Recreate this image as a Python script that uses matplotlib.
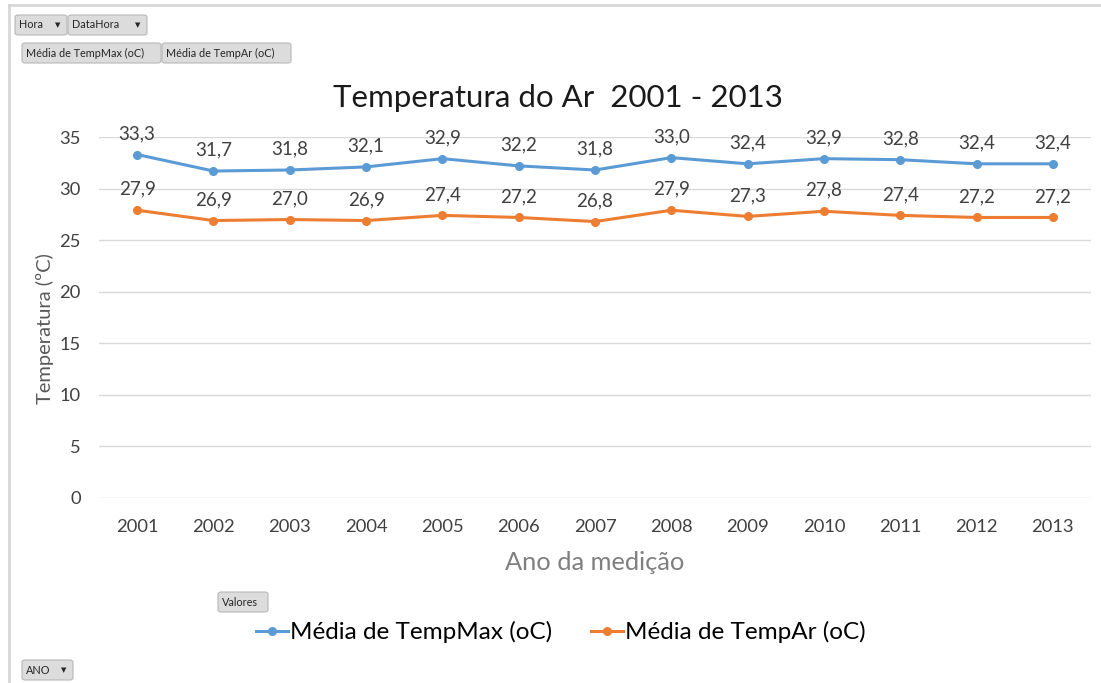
import matplotlib.pyplot as plt
from matplotlib.patches import FancyBboxPatch
from matplotlib.lines import Line2D

# ---------------------------
# DATA
# ---------------------------
anos = ["2001", "2002", "2003", "2004", "2005", "2006", "2007",
        "2008", "2009", "2010", "2011", "2012", "2013"]
temp_max = [33.3, 31.7, 31.8, 32.1, 32.9, 32.2, 31.8, 33.0, 32.4, 32.9, 32.8, 32.4, 32.4]
temp_ar = [27.9, 26.9, 27.0, 26.9, 27.4, 27.2, 26.8, 27.9, 27.3, 27.8, 27.4, 27.2, 27.2]
serie_nomes = ["Média de TempMax (oC)", "Média de TempAr (oC)"]
cores = ["#5b9bd5", "#ed7d31"]

plt.rcParams['font.family'] = ['Lato', 'DejaVu Sans']

W, H = 1101, 683
fig = plt.figure(figsize=(W / 100, H / 100), dpi=100)
fig.patch.set_facecolor("white")

# ---------------------------
# PLOT AREA
# ---------------------------
ax = fig.add_axes([99 / W, 1 - 498 / H, (1091 - 99) / W, (498 - 137) / H])
x = list(range(len(anos)))
for vals, cor in zip([temp_max, temp_ar], cores):
    ax.plot(x, vals, color=cor, lw=2.2, marker="o", ms=5.5, zorder=3)
    for xi, v in zip(x, vals):
        ax.annotate(f"{v:.1f}".replace(".", ","), (xi, v), xytext=(0, 9),
                    textcoords="offset points", ha="center", va="bottom",
                    fontsize=13.5, color="#404040")

ax.set_xlim(-0.5, len(anos) - 0.5)
ax.set_ylim(0, 35)
ax.set_yticks(range(0, 36, 5))
ax.set_xticks(x)
ax.set_xticklabels(anos)
ax.grid(axis="y", color="#d9d9d9", lw=1)
ax.set_axisbelow(True)
for s in ax.spines.values():
    s.set_visible(False)
ax.tick_params(length=0, labelsize=13.2, labelcolor="#404040", pad=15)
ax.tick_params(axis="y", pad=13)

ax.set_xlabel("Ano da medição", fontsize=18.3, color="#7f7f7f", labelpad=12)
ax.set_ylabel("Temperatura (ºC)", fontsize=14.5, color="#595959")
ax.yaxis.set_label_coords(-45 / (1091 - 99), 0.47)

fig.text(558 / W, 1 - 98 / H, "Temperatura do Ar  2001 - 2013", ha="center",
         va="center", fontsize=22.5, color="#1a1a1a")

# ---------------------------
# LEGEND
# ---------------------------
handles = [Line2D([], [], color=c, lw=2.2, marker="o", ms=5.5) for c in cores]
fig.legend(handles, serie_nomes, loc="center", bbox_to_anchor=(561 / W, 1 - 632 / H),
           ncol=2, frameon=False, fontsize=17.5, handlelength=1.3, handletextpad=0.1,
           columnspacing=1.6)

# ---------------------------
# BORDER + PIVOT BUTTONS
# ---------------------------
fig.add_artist(Line2D([9 / W, 1], [1 - 5 / H, 1 - 5 / H], color="#d8d8d8", lw=2))
fig.add_artist(Line2D([9 / W, 9 / W], [0, 1 - 5 / H], color="#d8d8d8", lw=2))

botoes = [("Hora", 15, 15, 52, True), ("DataHora", 68, 15, 79, True),
          ("Média de TempMax (oC)", 22, 43, 139, False),
          ("Média de TempAr (oC)", 162, 43, 129, False),
          ("Valores", 218, 592, 50, False), ("ANO", 22, 660, 51, True)]
for txt, bx, by, bw, seta in botoes:
    bh = 20
    fig.add_artist(FancyBboxPatch((bx / W, 1 - (by + bh) / H), bw / W, bh / H,
                                  boxstyle="round,pad=0,rounding_size=0.003",
                                  fc="#dcdcdc", ec="#b8b8b8", lw=0.8,
                                  transform=fig.transFigure))
    fig.text((bx + 4) / W, 1 - (by + bh / 2) / H, txt, fontsize=7.8,
             va="center", ha="left", color="#262626")
    if seta:
        fig.text((bx + bw - 9) / W, 1 - (by + bh / 2) / H, "▼", fontsize=5,
                 va="center", ha="center", color="#262626",
                 family=["DejaVu Sans"])

fig.savefig("out.png", dpi=100)
